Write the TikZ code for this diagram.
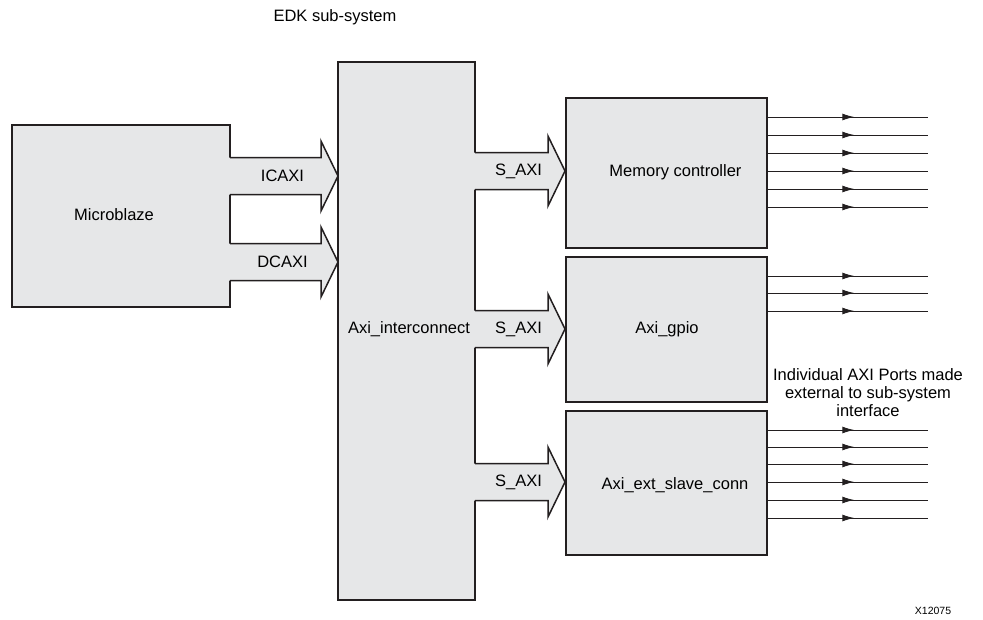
\documentclass[tikz,border=0pt]{standalone}
\usepackage{fontspec}
\setmainfont{Liberation Sans}
\usetikzlibrary{arrows.meta,decorations.markings}
\definecolor{boxgray}{HTML}{E6E7E8}
\definecolor{linecol}{HTML}{231F20}
\tikzset{
  blk/.style={draw=linecol,fill=boxgray,line width=1.5pt,inner sep=0pt},
  bline/.style={draw=linecol,line width=1.5pt,line join=miter},
  port/.style={draw=linecol,line width=1pt,postaction={decorate},
    decoration={markings,mark=at position 0.54 with {\arrow{Latex[length=12pt,width=7pt]}}}},
  lbl/.style={font=\fontsize{16.5}{18}\selectfont},
}
\newcommand{\blockarrow}[5]{%
  % #1 name, #2 start x, #3 tip x, #4 y, #5 label
  \fill[boxgray] (#2-1,#4-18.5) -- (#3-17,#4-18.5) -- (#3-17,#4-35) -- (#3,#4) -- (#3-17,#4+35) -- (#3-17,#4+18.5) -- (#2-1,#4+18.5) -- cycle;
  \draw[bline] (#2,#4-18.5) -- (#3-17,#4-18.5) -- (#3-17,#4-35) -- (#3,#4) -- (#3-17,#4+35) -- (#3-17,#4+18.5) -- (#2,#4+18.5);
  \node[lbl] (#1) at ({(#2+#3-17)/2+7},#4) {#5};
}
\begin{document}
\begin{tikzpicture}[x=1pt,y=-1pt]
\useasboundingbox (0,0) rectangle (983,619);
% boxes
\node[blk,minimum width=218pt,minimum height=182pt] (mb) at (121,216) {};
\node[lbl] (mblbl) at (114,215) {Microblaze};
\node[blk,minimum width=137pt,minimum height=538pt] (ic) at (406.5,331) {};
\node[lbl] (iclbl) at (409,329) {Axi\_interconnect};
\node[blk,minimum width=201pt,minimum height=150pt] (mem) at (666.5,173) {};
\node[lbl] (memlbl) at (675.5,172) {Memory controller};
\node[blk,minimum width=201pt,minimum height=145pt] (gpio) at (666.5,329.5) {};
\node[lbl] (gpiolbl) at (667,329) {Axi\_gpio};
\node[blk,minimum width=201pt,minimum height=144pt] (ext) at (666.5,483) {};
\node[lbl] (extlbl) at (675,485) {Axi\_ext\_slave\_conn};
% block arrows
\blockarrow{icaxi}{230}{338}{176}{ICAXI}
\blockarrow{dcaxi}{230}{338}{262}{DCAXI}
\blockarrow{saxi1}{475}{565}{171}{S\_AXI}
\blockarrow{saxi2}{475}{565}{329}{S\_AXI}
\blockarrow{saxi3}{475}{565}{482}{S\_AXI}
% ports
\foreach \y [count=\i] in {117,135,153,171,189,207}{
  \coordinate (mo\i) at (928,\y);
  \draw[port] (mem.east |- mo\i) -- (mo\i);
}
\foreach \y [count=\i] in {276,293,311}{
  \coordinate (go\i) at (928,\y);
  \draw[port] (gpio.east |- go\i) -- (go\i);
}
\foreach \y [count=\i] in {430,447,464,482,500,518}{
  \coordinate (eo\i) at (928,\y);
  \draw[port] (ext.east |- eo\i) -- (eo\i);
}
% texts
\node[lbl] (title) at (335,17) {EDK sub-system};
\node[lbl,align=center] (note) at (868,393) {Individual AXI Ports made\\external to sub-system\\interface};
\node[font=\fontsize{10.5}{12}\selectfont] (fig) at (933,611) {X12075};
\end{tikzpicture}
\end{document}
